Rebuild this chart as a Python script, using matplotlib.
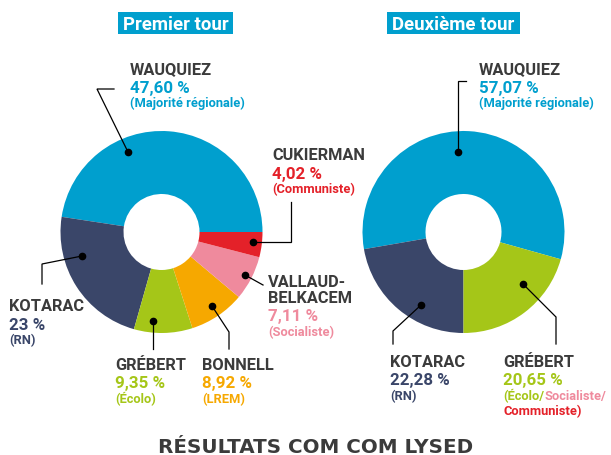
import matplotlib
matplotlib.use("Agg")
import matplotlib.pyplot as plt
from matplotlib.patches import Rectangle

W, H = 611, 456

# données
tour1_noms = ["WAUQUIEZ", "KOTARAC", "GRÉBERT", "BONNELL", "VALLAUD-\nBELKACEM", "CUKIERMAN"]
tour1_valeurs = [47.60, 23.00, 9.35, 8.92, 7.11, 4.02]
tour1_pct = ["47,60 %", "23 %", "9,35 %", "8,92 %", "7,11 %", "4,02 %"]
tour1_partis = ["(Majorité régionale)", "(RN)", "(Écolo)", "(LREM)", "(Socialiste)", "(Communiste)"]

tour2_noms = ["WAUQUIEZ", "KOTARAC", "GRÉBERT"]
tour2_valeurs = [57.07, 22.28, 20.65]
tour2_pct = ["57,07 %", "22,28 %", "20,65 %"]
tour2_partis = ["(Majorité régionale)", "(RN)", "(Écolo/"]

titres = ["Premier tour", "Deuxième tour"]
titre_general = "RÉSULTATS COM COM LYSED"

BLEU = "#009fce"
MARINE = "#3a4669"
VERT = "#a5c618"
ORANGE = "#f6a800"
ROSE = "#ef8a9d"
ROUGE = "#e42129"
GRIS = "#3b3b3b"
tour1_couleurs = [BLEU, MARINE, VERT, ORANGE, ROSE, ROUGE]
tour2_couleurs = [BLEU, MARINE, VERT]

ETROIT = ["Roboto", "DejaVu Sans"]
T_NOM = 11.8
T_PCT = 12.2
T_PARTI = 9.3

fig = plt.figure(figsize=(W / 100, H / 100), dpi=100)
ax = fig.add_axes([0, 0, 1, 1])


def Y(y):
    # coordonnées pixel (haut->bas) vers coordonnées des données
    return H - y


R = 101
trou = 38
ax.pie(tour1_valeurs, colors=tour1_couleurs, startangle=0, counterclock=True,
       center=(161.5, Y(233)), radius=R,
       wedgeprops=dict(width=R - trou, linewidth=0))
debut2 = 270 - (tour2_valeurs[0] + tour2_valeurs[1]) * 3.6
ax.pie(tour2_valeurs, colors=tour2_couleurs, startangle=debut2, counterclock=True,
       center=(463.5, Y(233)), radius=R,
       wedgeprops=dict(width=R - trou, linewidth=0))

ax.set_xlim(0, W)
ax.set_ylim(0, H)
ax.set_aspect("auto")
ax.axis("off")

# titres des deux tours
for titre, (x0, x1) in zip(titres, [(118, 233), (387, 520)]):
    ax.add_patch(Rectangle((x0, Y(35)), x1 - x0, 22, color=BLEU, lw=0))
    ax.text((x0 + x1) / 2, Y(29.5), titre, color="white", fontsize=13.4,
            fontweight="bold", family=ETROIT, ha="center", va="baseline")


def etiquette(x, y, nom, pct, parti, couleur):
    # y : ligne de base de la première ligne du nom
    lignes = nom.count("\n")
    y = y + 19 * lignes
    ax.text(x, Y(y), nom, color=GRIS, fontsize=T_NOM, fontweight="bold",
            family=ETROIT, ha="left", va="baseline", linespacing=1.12)
    ax.text(x, Y(y + 18.5), pct, color=couleur, fontsize=T_PCT, fontweight="bold",
            family=ETROIT, ha="left", va="baseline")
    return ax.text(x, Y(y + 33), parti, color=couleur, fontsize=T_PARTI, fontweight="bold",
                   family=ETROIT, ha="left", va="baseline")


def trait(points):
    xs = [p[0] for p in points]
    ys = [Y(p[1]) for p in points]
    ax.plot(xs, ys, color="black", lw=0.9, solid_joinstyle="miter")
    ax.plot(xs[-1], ys[-1], "o", color="black", ms=4.5)


# premier tour
pos1 = [(130, 74), (9, 311), (115, 370), (202, 370), (268, 284), (272, 160)]
traits1 = [
    [(114, 90), (97, 90), (128, 153)],
    [(42, 285), (42, 265), (82, 257)],
    [(153, 350), (153, 322)],
    [(229, 350), (229, 333), (212, 307)],
    [(263, 286), (245, 276)],
    [(291, 203), (291, 243), (253, 243)],
]
for i in range(len(tour1_noms)):
    etiquette(pos1[i][0], pos1[i][1], tour1_noms[i], tour1_pct[i], tour1_partis[i], tour1_couleurs[i])
    trait(traits1[i])

# deuxième tour
pos2 = [(479, 74), (390, 367), (503, 367)]
traits2 = [
    [(466, 82), (458, 82), (458, 153)],
    [(393, 345), (393, 332), (421, 306)],
    [(556, 345), (556, 318), (523, 285)],
]
for i in range(len(tour2_noms)):
    t = etiquette(pos2[i][0], pos2[i][1], tour2_noms[i], tour2_pct[i], tour2_partis[i], tour2_couleurs[i])
    trait(traits2[i])

# soutiens de Grébert au second tour, à la suite de "(Écolo/"
fig.canvas.draw()
fin = t.get_window_extent(fig.canvas.get_renderer())
x_suite = ax.transData.inverted().transform((fin.x1, fin.y0))[0]
ax.text(x_suite + 0.5, Y(pos2[2][1] + 33), "Socialiste/", color=ROSE, fontsize=T_PARTI,
        fontweight="bold", family=ETROIT, ha="left", va="baseline")
ax.text(pos2[2][0], Y(pos2[2][1] + 48), "Communiste)", color=ROUGE, fontsize=T_PARTI,
        fontweight="bold", family=ETROIT, ha="left", va="baseline")

ax.text(315.5, Y(453), titre_general, color=GRIS, fontsize=14.3, fontweight="bold",
        family="DejaVu Sans", ha="center", va="baseline")

fig.savefig("out.png", dpi=100, facecolor="white")
